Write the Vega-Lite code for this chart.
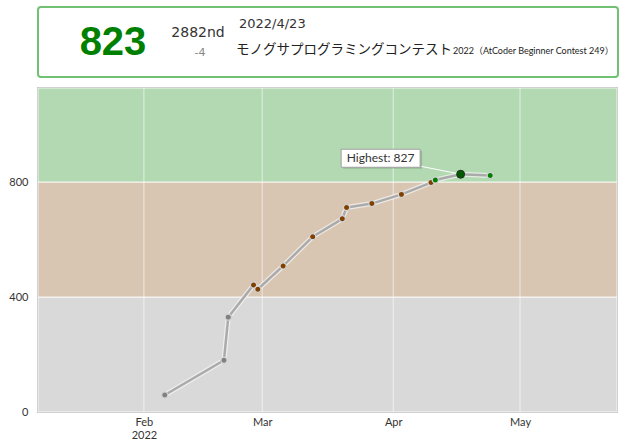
{
  "$schema": "https://vega.github.io/schema/vega-lite/v6.json",
  "padding": {"left": 8, "top": 6, "right": 3, "bottom": 0},
  "datasets": {
    "history": [
      {"date": "2022-02-05T22:40", "rating": 59},
      {"date": "2022-02-19T22:40", "rating": 180},
      {"date": "2022-02-20T23:00", "rating": 330},
      {"date": "2022-02-26T22:40", "rating": 442},
      {"date": "2022-02-27T23:00", "rating": 427},
      {"date": "2022-03-05T22:40", "rating": 508},
      {"date": "2022-03-12T22:40", "rating": 610},
      {"date": "2022-03-19T22:40", "rating": 672},
      {"date": "2022-03-20T23:00", "rating": 711},
      {"date": "2022-03-26T22:40", "rating": 725},
      {"date": "2022-04-02T22:40", "rating": 757},
      {"date": "2022-04-09T22:40", "rating": 798},
      {"date": "2022-04-10T23:00", "rating": 807},
      {"date": "2022-04-16T22:40", "rating": 827},
      {"date": "2022-04-23T22:40", "rating": 823}
    ],
    "latest": [
      {"rating": 823, "rank": "2882nd", "diff": "-4", "day": "2022/4/23",
       "contest": "モノグサプログラミングコンテスト2022（AtCoder Beginner Contest 249）"}
    ],
    "bands": [
      {"band": "gray", "lo": 0, "hi": 400},
      {"band": "brown", "lo": 400, "hi": 800},
      {"band": "green", "lo": 800, "hi": 1127}
    ],
    "months": [
      {"month": "2022-02-01T00:00"},
      {"month": "2022-03-01T00:00"},
      {"month": "2022-04-01T00:00"},
      {"month": "2022-05-01T00:00"}
    ]
  },
  "spacing": 8,
  "vconcat": [
    {
      "width": 580,
      "height": 70,
      "view": {"stroke": "#72c072", "strokeWidth": 2, "cornerRadius": 3},
      "data": {"name": "latest"},
      "transform": [
        {"calculate": "substring(datum.contest, 0, 16)", "as": "jp"},
        {"calculate": "substring(datum.contest, 16)", "as": "en"}
      ],
      "layer": [
        {
          "mark": {"type": "text", "x": 75, "y": 48, "align": "center", "baseline": "alphabetic",
                   "font": "Liberation Sans", "fontWeight": "bold", "fontSize": 40, "fill": "#008000"},
          "encoding": {"text": {"field": "rating"}}
        },
        {
          "mark": {"type": "text", "x": 160, "y": 30, "align": "center", "baseline": "alphabetic",
                   "font": "DejaVu Sans", "fontSize": 14, "fill": "#333"},
          "encoding": {"text": {"field": "rank"}}
        },
        {
          "mark": {"type": "text", "x": 162, "y": 49, "align": "center", "baseline": "alphabetic",
                   "font": "DejaVu Sans", "fontSize": 11, "fill": "#888"},
          "encoding": {"text": {"field": "diff"}}
        },
        {
          "mark": {"type": "text", "x": 201, "y": 21, "align": "left", "baseline": "alphabetic",
                   "font": "DejaVu Sans", "fontSize": 13, "fill": "#333"},
          "encoding": {"text": {"field": "day"}}
        },
        {
          "mark": {"type": "text", "x": 198, "y": 47, "align": "left", "baseline": "alphabetic",
                   "font": "Noto Sans CJK JP", "fontSize": 13.5, "fill": "#222"},
          "encoding": {"text": {"field": "jp"}}
        },
        {
          "mark": {"type": "text", "x": 415, "y": 47, "align": "left", "baseline": "alphabetic",
                   "font": "Lato, Noto Sans CJK JP", "fontSize": 9, "fill": "#222"},
          "encoding": {"text": {"field": "en"}}
        }
      ]
    },
    {
      "width": 579,
      "height": 324,
      "view": {"stroke": "#999", "strokeWidth": 1.5},
      "resolve": {"scale": {"color": "independent"}},
      "layer": [
        {
          "data": {"name": "bands"},
          "mark": {"type": "rect", "stroke": "#ffffff", "strokeWidth": 1, "strokeOpacity": 0.8},
          "encoding": {
            "y": {"field": "lo", "type": "quantitative", "scale": {"domain": [0, 1127], "nice": false}},
            "y2": {"field": "hi"},
            "color": {
              "field": "band", "type": "nominal", "legend": null,
              "scale": {"domain": ["gray", "brown", "green"], "range": ["#D9D9D9", "#D9C6B2", "#B2D9B2"]}
            }
          }
        },
        {
          "data": {"name": "months"},
          "mark": {"type": "rule", "color": "#ffffff", "strokeWidth": 1, "opacity": 0.6},
          "encoding": {
            "x": {
              "field": "month", "type": "temporal",
              "scale": {"domain": [
                {"year": 2022, "month": 1, "date": 6, "hours": 22, "minutes": 40},
                {"year": 2022, "month": 5, "date": 23, "hours": 22, "minutes": 40}
              ]}
            }
          }
        },
        {
          "data": {"name": "history"},
          "layer": [
            {
              "mark": {"type": "line", "stroke": "#f4f4f4", "strokeWidth": 5, "opacity": 0.75},
              "encoding": {}
            },
            {
              "mark": {"type": "line", "stroke": "#aaaaaa", "strokeWidth": 2.5},
              "encoding": {}
            },
            {
              "mark": {"type": "circle", "size": 38, "opacity": 1, "stroke": "#d4d4d4", "strokeWidth": 1.2},
              "encoding": {
                "color": {
                  "field": "rating", "type": "quantitative", "legend": null,
                  "scale": {"type": "threshold", "domain": [400, 800], "range": ["#808080", "#804000", "#008000"]}
                }
              }
            },
            {
              "transform": [
                {"joinaggregate": [{"op": "max", "field": "rating", "as": "best"}]},
                {"filter": "datum.rating == datum.best"},
                {"calculate": "'Highest: ' + datum.best", "as": "label"}
              ],
              "layer": [
                {
                  "mark": {"type": "rule", "color": "#ffffff", "strokeWidth": 1, "x2Offset": -40, "y2Offset": -8},
                  "encoding": {"x2": {"field": "date"}, "y2": {"field": "rating"}}
                },
                {
                  "mark": {"type": "circle", "size": 64, "opacity": 1, "fill": "#005a00", "stroke": "#223322", "strokeWidth": 1},
                  "encoding": {}
                },
                {
                  "mark": {"type": "point", "shape": "M-1,-0.228H1V0.228H-1Z", "size": 6241, "filled": true,
                           "fill": "#000000", "opacity": 0.15, "xOffset": -78, "yOffset": -14.5},
                  "encoding": {}
                },
                {
                  "mark": {"type": "point", "shape": "M-1,-0.228H1V0.228H-1Z", "size": 6241, "filled": true,
                           "fill": "#ffffff", "opacity": 1, "stroke": "#a0a0a0", "strokeWidth": 1,
                           "xOffset": -80, "yOffset": -16},
                  "encoding": {}
                },
                {
                  "mark": {"type": "text", "dx": -80, "dy": -16, "align": "center", "baseline": "middle",
                           "font": "Lato", "fontSize": 12, "fill": "#333"},
                  "encoding": {"text": {"field": "label"}}
                }
              ]
            }
          ],
          "encoding": {
            "x": {
              "field": "date", "type": "temporal",
              "scale": {"domain": [
                {"year": 2022, "month": 1, "date": 6, "hours": 22, "minutes": 40},
                {"year": 2022, "month": 5, "date": 23, "hours": 22, "minutes": 40}
              ]},
              "axis": {
                "title": null,
                "values": [
                  {"year": 2022, "month": 2, "date": 1},
                  {"year": 2022, "month": 3, "date": 1},
                  {"year": 2022, "month": 4, "date": 1},
                  {"year": 2022, "month": 5, "date": 1}
                ],
                "labelExpr": "month(datum.value) == 1 ? [timeFormat(datum.value, '%b'), timeFormat(datum.value, '%Y')] : timeFormat(datum.value, '%b')",
                "ticks": false, "domain": false, "grid": false,
                "labelPadding": 4, "labelLineHeight": 13.5
              }
            },
            "y": {
              "field": "rating", "type": "quantitative",
              "scale": {"domain": [0, 1127], "nice": false},
              "axis": {
                "title": null, "values": [0, 400, 800],
                "ticks": false, "domain": false, "grid": false, "labelPadding": 10
              }
            }
          }
        }
      ]
    }
  ],
  "config": {
    "font": "Lato",
    "axis": {
      "labelFont": "Lato",
      "labelFontSize": 11,
      "labelColor": "#333"
    }
  }
}
